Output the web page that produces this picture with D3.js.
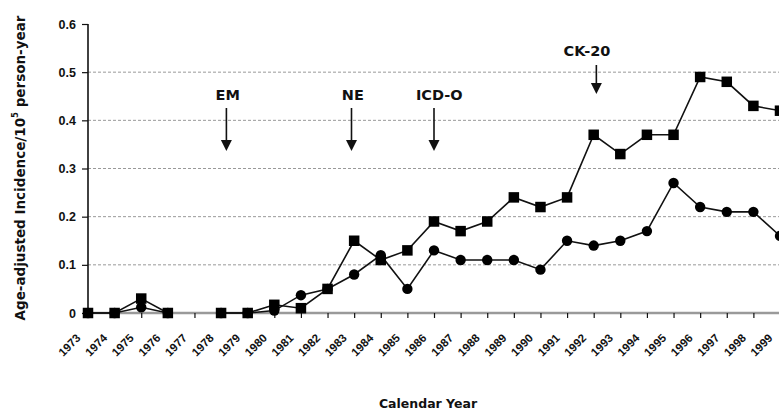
<!DOCTYPE html>
<html>
<head>
<meta charset="utf-8">
<script src="https://cdn.jsdelivr.net/npm/d3@7"></script>
<style>
  html, body { margin: 0; padding: 0; background: #fff; }
  svg { display: block; font-family: "DejaVu Sans", "Liberation Sans", Arial, sans-serif; font-weight: bold; }
</style>
</head>
<body>
<svg id="chart" width="779" height="410"></svg>
<script>
// Incidence per year (null = no data point that year)
const years = d3.range(1973, 2000);
const squareSeries = [0, 0, 0.03, 0, null, 0, 0, 0.017, 0.01, 0.05, 0.15, 0.11, 0.13, 0.19, 0.17, 0.19, 0.24, 0.22, 0.24, 0.37, 0.33, 0.37, 0.37, 0.49, 0.48, 0.43, 0.42];
const circleSeries = [0, 0, 0.012, 0, null, 0, 0, 0.005, 0.037, 0.05, 0.08, 0.12, 0.05, 0.13, 0.11, 0.11, 0.11, 0.09, 0.15, 0.14, 0.15, 0.17, 0.27, 0.22, 0.21, 0.21, 0.16];
const yTicks = [0, 0.1, 0.2, 0.3, 0.4, 0.5, 0.6];
const gridValues = [0.1, 0.2, 0.3, 0.4, 0.5];

// Event markers: arrow year, label centre year, label text, level
const eventLabels = ["EM", "NE", "ICD-O", "CK-20"];
const eventArrowYears = [1978.2, 1982.9, 1986.0, 1992.1];
const eventLabelYears = [1978.25, 1982.95, 1986.2, 1991.75];
const eventLevels = ["low", "low", "low", "high"];

const svg = d3.select("#chart");
const x = d3.scaleLinear().domain([1973, 1999]).range([88, 780]);
const y = d3.scaleLinear().domain([0, 0.6]).range([313, 24]);

// dashed horizontal gridlines
svg.append("g").selectAll("line").data(gridValues).join("line")
  .attr("x1", x(1973)).attr("x2", 779)
  .attr("y1", d => y(d)).attr("y2", d => y(d))
  .attr("stroke", "#999").attr("stroke-width", 1)
  .attr("stroke-dasharray", "3,2");

// x axis
const xAxis = d3.axisBottom(x).tickValues(years).tickSize(5).tickFormat(d3.format("d"));
const gx = svg.append("g").attr("transform", `translate(0,${y(0)})`).call(xAxis);
gx.select(".domain").attr("stroke", "#9a9a9a").attr("stroke-width", 2.5).attr("d", `M${x(1973)},0H779`);
gx.selectAll(".tick line").attr("stroke", "#111").attr("stroke-width", 1.2);
gx.selectAll(".tick text")
  .attr("font-size", 11.5).attr("font-weight", "bold").attr("fill", "#111")
  .attr("text-anchor", "middle")
  .attr("y", 0).attr("x", 0).attr("dy", "0.35em")
  .attr("transform", "translate(-19,32) rotate(-45)");

// y axis
const yAxis = d3.axisLeft(y).tickValues(yTicks).tickSize(6).tickPadding(6)
  .tickFormat(d => d === 0 ? "0" : d3.format(".1f")(d));
const gy = svg.append("g").attr("transform", `translate(${x(1973)},0)`).call(yAxis);
gy.select(".domain").attr("stroke", "#111").attr("stroke-width", 1.6).attr("d", `M0,${y(0.6)}V${y(0)}`);
gy.selectAll(".tick line").attr("stroke", "#111").attr("stroke-width", 1.2);
gy.selectAll(".tick text").attr("font-size", 12.5).attr("font-weight", "bold").attr("fill", "#111");

// series lines (segments broken at missing years)
const line = d3.line()
  .defined(d => d.v !== null)
  .x(d => x(d.year)).y(d => y(d.v));
const sqData = years.map((yr, i) => ({ year: yr, v: squareSeries[i] }));
const ciData = years.map((yr, i) => ({ year: yr, v: circleSeries[i] }));

svg.append("path").datum(ciData).attr("d", line)
  .attr("fill", "none").attr("stroke", "#111").attr("stroke-width", 1.6);
svg.append("path").datum(sqData).attr("d", line)
  .attr("fill", "none").attr("stroke", "#111").attr("stroke-width", 1.6);

svg.append("g").selectAll("circle").data(ciData.filter(d => d.v !== null)).join("circle")
  .attr("cx", d => x(d.year)).attr("cy", d => y(d.v)).attr("r", 5.2)
  .attr("fill", "#000");
const sq = 10.5;
svg.append("g").selectAll("rect").data(sqData.filter(d => d.v !== null)).join("rect")
  .attr("x", d => x(d.year) - sq / 2).attr("y", d => y(d.v) - sq / 2)
  .attr("width", sq).attr("height", sq).attr("fill", "#000");

// event arrows
const levels = {
  low: { text: 95, top: 108, bottom: 151 },
  high: { text: 51, top: 65, bottom: 94 }
};
const events = eventLabels.map((t, i) => ({ t, ax: eventArrowYears[i], lx: eventLabelYears[i], lv: levels[eventLevels[i]] }));
const ev = svg.append("g").selectAll("g").data(events).join("g");
ev.append("text")
  .attr("x", d => x(d.lx)).attr("y", d => d.lv.text)
  .attr("text-anchor", "middle").attr("dominant-baseline", "central")
  .attr("font-size", 14.5).attr("fill", "#111").text(d => d.t);
ev.append("line")
  .attr("x1", d => x(d.ax)).attr("x2", d => x(d.ax))
  .attr("y1", d => d.lv.top).attr("y2", d => d.lv.bottom - 8)
  .attr("stroke", "#111").attr("stroke-width", 1.6);
ev.append("path")
  .attr("d", d => {
    const cx = x(d.ax), b = d.lv.bottom;
    return `M${cx - 5.5},${b - 11}L${cx + 5.5},${b - 11}L${cx},${b}Z`;
  })
  .attr("fill", "#111");

// axis titles
svg.append("text")
  .attr("transform", "translate(20,168) rotate(-90)")
  .attr("text-anchor", "middle").attr("dominant-baseline", "central")
  .attr("font-size", 13.5).attr("fill", "#111")
  .call(t => {
    t.append("tspan").text("Age-adjusted Incidence/10");
    t.append("tspan").attr("font-size", 8.5).attr("dy", "-0.6em").text("5");
    t.append("tspan").attr("dy", "0.38em").text(" person-year");
  });

svg.append("text")
  .attr("x", 428).attr("y", 408)
  .attr("text-anchor", "middle")
  .attr("font-size", 12.5).attr("fill", "#111")
  .text("Calendar Year");
</script>
</body>
</html>
